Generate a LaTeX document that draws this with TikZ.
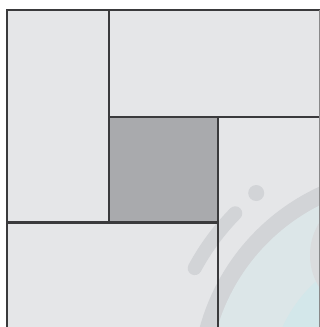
\documentclass[tikz,border=0pt]{standalone}
\definecolor{panelfill}{HTML}{E5E6E8}
\definecolor{corefill}{HTML}{A9AAAD}
\definecolor{edgecol}{HTML}{3A3A3C}
\definecolor{ringcol}{HTML}{D2D4D7}
\definecolor{glasscol}{HTML}{DCE6E8}
\definecolor{glasstwo}{HTML}{D3E7EA}
\definecolor{bumpcol}{HTML}{DADCDE}
\tikzset{
  panel/.style={fill=panelfill},
  core/.style={fill=corefill},
  edgeline/.style={draw=edgecol, line width=2.2pt, line cap=rect},
  ringfill/.style={fill=ringcol},
  glassfill/.style={fill=glasscol},
  glasstwofill/.style={fill=glasstwo},
  bumpfill/.style={fill=bumpcol},
  capsule/.style={draw=ringcol, line width=14pt, line cap=round},
}
\begin{document}
\begin{tikzpicture}[x=1pt,y=-1pt]
\useasboundingbox (0,0) rectangle (320,327);
\fill[white] (0,0) rectangle (320,327);
\begin{scope}
  \clip (0,0) rectangle (320,327);
  % panels
  \fill[panel] (7,10) rectangle (330,340);
  \fill[core] (109.3,116.8) rectangle (218.2,222.5);
  % watermark
  \coordinate (wc) at (410,385);
  \fill[ringfill] (wc) circle[radius=218];
  \fill[glassfill] (wc) circle[radius=201];
  \fill[glasstwofill] (wc) circle[radius=140];
  \fill[bumpfill] (371,255) circle[radius=61];
  \draw[capsule] (wc) ++(208.5:245) arc[start angle=208.5, end angle=224.5, radius=245];
  \fill[ringfill] (wc) ++(231.3:246) circle[radius=8];
  % lines
  \draw[edgeline] (7,335) -- (7,10.2) -- (319.5,10.2);
  \draw[edgeline] (109.3,10.2) -- (109.3,222.5);
  \draw[edgeline] (109.3,116.8) -- (319.5,116.8);
  \draw[edgeline] (218.2,116.8) -- (218.2,335);
  \draw[edgeline] (7,222.5) -- (218.2,222.5);
  \draw[draw=edgecol!60, line width=1.4pt] (319.4,10.2) -- (319.4,335);
\end{scope}
\end{tikzpicture}
\end{document}
